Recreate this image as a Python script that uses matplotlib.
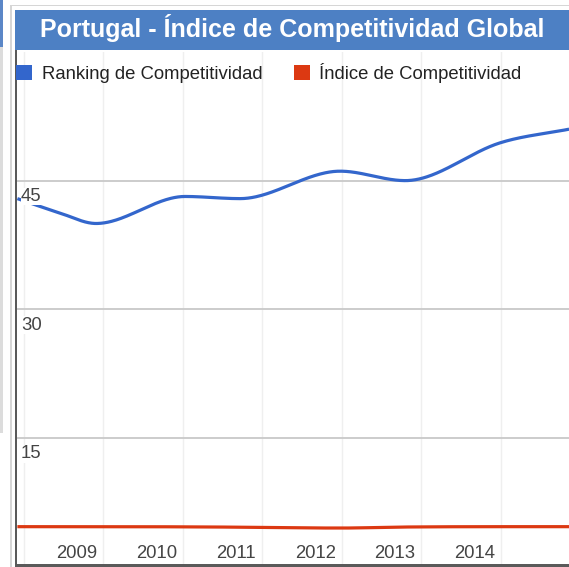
import numpy as np
import matplotlib
matplotlib.use("Agg")
import matplotlib.pyplot as plt
from matplotlib.patches import Rectangle

# ---------------- data ----------------
title = "Portugal - Índice de Competitividad Global"
series_names = ["Ranking de Competitividad", "Índice de Competitividad"]
series_colors = ["#3366cc", "#dc3912"]
x_pos = [2008.25, 2008.79, 2009.24, 2010.36, 2011.05, 2012.31, 2013.13, 2014.32, 2015.19]
ranking = [42.9, 41.2, 40.0, 43.15, 42.9, 46.1, 45.0, 49.4, 51.0]
indice = [4.64, 4.64, 4.64, 4.62, 4.58, 4.48, 4.60, 4.64, 4.64]
year_labels = [2009, 2010, 2011, 2012, 2013, 2014]
grid_years = [2008, 2009, 2010, 2011, 2012, 2013, 2014, 2015]
y_ticks = [15, 30, 45]

W, H = 569, 567
FONT = "Liberation Sans"


def smooth(xs, ys, n=600):
    """Smooth curve (cubic Hermite) through the data points, like curveType 'function'."""
    xs = np.asarray(xs, float)
    ys = np.asarray(ys, float)
    m = np.zeros_like(ys)
    for i in range(len(xs)):
        if i == 0:
            m[i] = (ys[1] - ys[0]) / (xs[1] - xs[0])
        elif i == len(xs) - 1:
            m[i] = (ys[-1] - ys[-2]) / (xs[-1] - xs[-2])
        else:
            d0 = ys[i] - ys[i - 1]
            d1 = ys[i + 1] - ys[i]
            if d0 * d1 <= 0:
                m[i] = 0.0
            else:
                m[i] = (ys[i + 1] - ys[i - 1]) / (xs[i + 1] - xs[i - 1])
    xx, yy = [], []
    for i in range(len(xs) - 1):
        h = xs[i + 1] - xs[i]
        t = np.linspace(0, 1, n // (len(xs) - 1), endpoint=(i == len(xs) - 2))
        h00 = 2 * t**3 - 3 * t**2 + 1
        h10 = t**3 - 2 * t**2 + t
        h01 = -2 * t**3 + 3 * t**2
        h11 = t**3 - t**2
        xx.append(xs[i] + t * h)
        yy.append(h00 * ys[i] + h10 * h * m[i] + h01 * ys[i + 1] + h11 * h * m[i + 1])
    return np.concatenate(xx), np.concatenate(yy)


fig = plt.figure(figsize=(W / 100, H / 100), dpi=100)
fig.patch.set_facecolor("white")


def frect(x0, y0, x1, y1, color, z=1):
    fig.add_artist(Rectangle((x0 / W, 1 - y1 / H), (x1 - x0) / W, (y1 - y0) / H,
                             transform=fig.transFigure, facecolor=color,
                             edgecolor="none", zorder=z))


# ---------------- page decorations ----------------
frect(0, 0, 2.5, 47, "#5b87c7")
frect(0, 47, 2.5, 433, "#dcdcdc")
frect(10, 5, 569, 6.2, "#d6d6d6")
frect(10, 5, 11.5, 567, "#d6d6d6")

# ---------------- axes ----------------
ax = fig.add_axes([17 / W, 1 - 565 / H, (W - 17) / W, (565 - 52) / H])
ax.set_xlim(2008.245, 2015.189)
ax.set_ylim(0.17, 60.0)
for s in ax.spines.values():
    s.set_visible(False)
ax.set_xticks([])
ax.set_yticks([])
ax.patch.set_facecolor("white")

for g in grid_years:
    ax.axvline(g + 0.33, color="#efefef", lw=1.0, zorder=1)
for v in y_ticks:
    ax.axhline(v, color="#cccccc", lw=1.4, zorder=1)

bx, by = smooth(x_pos, ranking)
rx, ry = smooth(x_pos, indice)
ax.plot(bx, by, color=series_colors[0], lw=2.3, zorder=3, solid_capstyle="butt")
ax.plot(rx, ry, color=series_colors[1], lw=2.3, zorder=3, solid_capstyle="butt")

for v in y_ticks:
    ax.annotate(str(v), xy=(0, v), xycoords=("axes fraction", "data"),
                xytext=(4, -20.5), textcoords="offset pixels",
                ha="left", va="baseline", fontsize=13.3, color="#444444",
                family=FONT, zorder=5,
                bbox=dict(facecolor="white", edgecolor="none", pad=0.3))

for yr in year_labels:
    ax.annotate(str(yr), xy=(yr, 0), xycoords=("data", "axes fraction"),
                xytext=(0, 6.7), textcoords="offset pixels",
                ha="center", va="baseline", fontsize=13.3, color="#444444",
                family=FONT, zorder=5)

# ---------------- frame ----------------
frect(15, 50, 17, 567, "#5a5a5a", z=4)
frect(15, 564, 569, 566.5, "#5a5a5a", z=4)

# ---------------- title bar ----------------
frect(15, 10, 569, 50, "#4d80c4", z=5)
fig.text(292 / W, 1 - 37 / H, title, ha="center", va="baseline",
         fontsize=18, fontweight="bold", color="white", family=FONT, zorder=6)

# ---------------- legend ----------------
frect(16, 65, 31.5, 80, series_colors[0], z=6)
fig.text(41.5 / W, 1 - 79 / H, series_names[0], ha="left", va="baseline",
         fontsize=13.3, color="#222222", family=FONT, zorder=6)
frect(294, 65, 309.5, 80, series_colors[1], z=6)
fig.text(319 / W, 1 - 79 / H, series_names[1], ha="left", va="baseline",
         fontsize=13.3, color="#222222", family=FONT, zorder=6)

fig.savefig("out.png", dpi=100, facecolor="white")
